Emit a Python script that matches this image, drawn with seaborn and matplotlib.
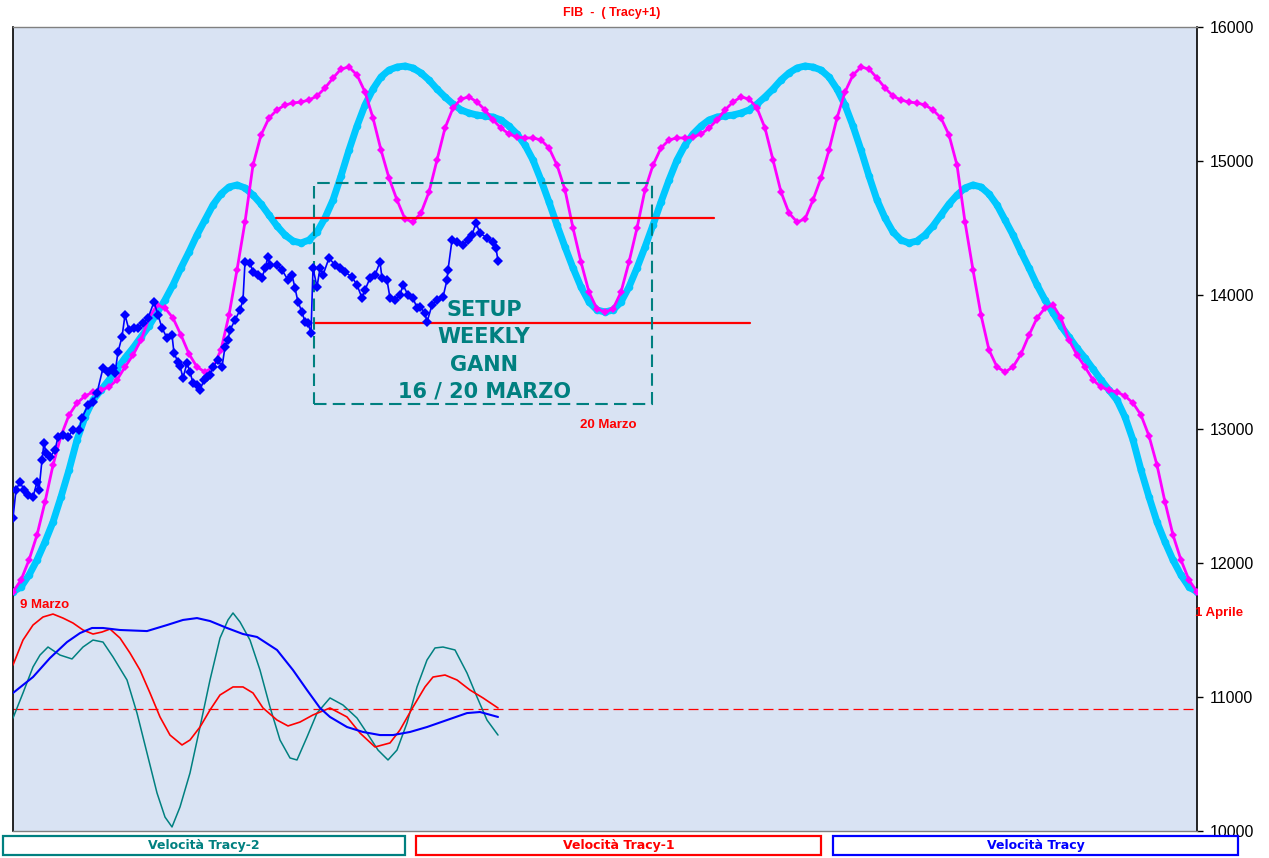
import numpy as np
import pandas as pd
import matplotlib
matplotlib.use("Agg")
import matplotlib.pyplot as plt
from matplotlib.patches import Rectangle
import seaborn as sns

# ---------------- data ----------------
curve_bar = list(range(0, 1185, 8))  # sample positions of the projection curves (149)

proiezione_tracy = [  # cyan curve
    11785, 11821, 11910, 12022, 12157, 12306, 12493, 12694, 12918, 13090,
    13216, 13291, 13366, 13448, 13530, 13604, 13687, 13769, 13866, 13963,
    14075, 14202, 14321, 14448, 14560, 14672, 14754, 14806, 14821, 14799,
    14746, 14679, 14597, 14515, 14448, 14403, 14388, 14410, 14470, 14575,
    14709, 14888, 15082, 15261, 15418, 15537, 15627, 15679, 15701, 15709,
    15694, 15657, 15604, 15537, 15478, 15425, 15381, 15358, 15343, 15336,
    15328, 15306, 15261, 15201, 15119, 15007, 14858, 14694, 14522, 14358,
    14202, 14060, 13948, 13888, 13873,
    13888, 13948, 14060, 14202, 14358, 14522, 14694, 14858, 15007, 15119,
    15201, 15261, 15306, 15328, 15336, 15343, 15358, 15381, 15425, 15478,
    15537, 15604, 15657, 15694, 15709, 15701, 15679, 15627, 15537, 15418,
    15261, 15082, 14888, 14709, 14575, 14470, 14410, 14388, 14403, 14448,
    14515, 14597, 14679, 14746, 14799, 14821, 14806, 14754, 14672, 14560,
    14448, 14321, 14202, 14075, 13963, 13866, 13769, 13687, 13604, 13530,
    13448, 13366, 13291, 13216, 13090, 12918, 12694, 12493, 12306, 12157,
    12022, 11910, 11821, 11785]

proiezione_tracy1 = [  # magenta curve
    11785, 11873, 12022, 12209, 12455, 12731, 12948, 13104, 13194, 13246,
    13276, 13291, 13313, 13366, 13463, 13552, 13664, 13828, 13925, 13903,
    13828, 13701, 13560, 13463, 13425, 13463, 13590, 13851, 14187, 14545,
    14970, 15194, 15321, 15381, 15418, 15433, 15440, 15455, 15485, 15545,
    15619, 15687, 15701, 15642, 15515, 15321, 15082, 14873, 14709, 14567,
    14545, 14612, 14769, 15007, 15246, 15395, 15463, 15478, 15440, 15381,
    15306, 15246, 15201, 15179, 15172, 15172, 15157, 15097, 14970, 14784,
    14500, 14246, 14022, 13896, 13873,
    13896, 14022, 14246, 14500, 14784, 14970, 15097, 15157, 15172, 15172,
    15179, 15201, 15246, 15306, 15381, 15440, 15478, 15463, 15395, 15246,
    15007, 14769, 14612, 14545, 14567, 14709, 14873, 15082, 15321, 15515,
    15642, 15701, 15687, 15619, 15545, 15485, 15455, 15440, 15433, 15418,
    15381, 15321, 15194, 14970, 14545, 14187, 13851, 13590, 13463, 13425,
    13463, 13560, 13701, 13828, 13903, 13925, 13828, 13664, 13552, 13463,
    13366, 13313, 13291, 13276, 13246, 13194, 13104, 12948, 12731, 12455,
    12209, 12022, 11873, 11785]

price_bar = [
    0, 3, 7, 11, 15, 20, 24, 26, 29, 31,
    33, 37, 42, 45, 50, 55, 60, 66, 69, 75,
    80, 84, 90, 95, 100, 102, 105, 109, 112, 116,
    121, 125, 130, 135, 141, 145, 149, 154, 159, 161,
    165, 167, 170, 174, 177, 180, 184, 187, 191, 194,
    197, 200, 205, 209, 212, 215, 217, 222, 227, 230,
    232, 237, 240, 245, 249, 252, 255, 257, 264, 269,
    275, 279, 282, 285, 289, 292, 295, 298, 300, 304,
    307, 310, 316, 322, 327, 332, 339, 344, 349, 352,
    357, 362, 367, 369, 374, 377, 382, 387, 390, 395,
    400, 404, 407, 412, 414, 419, 424, 430, 434, 435,
    439, 444, 450, 455, 459, 463, 467, 474, 480, 483,
    485]
price_fib = [
    12336, 12545, 12605, 12545, 12507, 12492, 12605, 12545, 12769, 12896,
    12821, 12791, 12843, 12940, 12955, 12940, 12993, 12993, 13082, 13179,
    13201, 13269, 13455, 13425, 13455, 13418, 13575, 13687, 13851, 13739,
    13754, 13754, 13791, 13828, 13948, 13851, 13754, 13679, 13701, 13567,
    13500, 13470, 13381, 13493, 13425, 13343, 13328, 13291, 13366, 13388,
    13403, 13463, 13515, 13463, 13612, 13664, 13739, 13813, 13888, 13963,
    14246, 14239, 14172, 14149, 14127, 14201, 14284, 14224, 14224, 14187,
    14112, 14149, 14052, 13948, 13873, 13798, 13791, 13716, 14201, 14060,
    14201, 14149, 14276, 14224, 14201, 14172, 14134, 14075, 13978, 14037,
    14127, 14149, 14246, 14127, 14112, 13978, 13963, 14000, 14075, 14000,
    13978, 13903, 13910, 13866, 13798, 13925, 13963, 13985, 14112, 14187,
    14410, 14396, 14373, 14410, 14448, 14537, 14463, 14425, 14396, 14351,
    14254]

vel_tracy2_bar = [0, 10, 20, 27, 35, 47, 59, 70, 80, 90,
                  100, 114, 124, 134, 144, 152, 159, 167, 177, 187,
                  197, 207, 215, 220, 227, 237, 247, 257, 267, 277,
                  284, 294, 304, 317, 330, 344, 354, 365, 375, 384,
                  394, 404, 414, 422, 430, 442, 454, 464, 474, 485]
vel_tracy2 = [10843, 11030, 11224, 11313, 11373, 11313, 11284, 11373, 11425, 11410,
              11299, 11127, 10880, 10582, 10284, 10104, 10030, 10179, 10433, 10776,
              11127, 11440, 11575, 11627, 11560, 11425, 11201, 10925, 10679, 10545,
              10530, 10701, 10880, 10993, 10940, 10843, 10731, 10604, 10530, 10604,
              10806, 11075, 11276, 11366, 11373, 11351, 11179, 11000, 10828, 10716]

vel_tracy1_bar = [0, 10, 20, 30, 40, 50, 60, 70, 80, 89,
                  97, 107, 117, 127, 137, 147, 157, 169, 177, 187,
                  197, 207, 220, 230, 240, 250, 264, 275, 287, 300,
                  317, 334, 347, 362, 377, 387, 400, 412, 420, 432,
                  444, 457, 470, 485]
vel_tracy1 = [11239, 11425, 11537, 11597, 11619, 11589, 11552, 11500, 11470, 11485,
              11507, 11440, 11328, 11201, 11030, 10851, 10716, 10642, 10679, 10776,
              10903, 11015, 11075, 11075, 11030, 10918, 10828, 10784, 10813, 10866,
              10918, 10851, 10731, 10627, 10657, 10754, 10925, 11075, 11149, 11164,
              11127, 11052, 10993, 10918]

vel_tracy_bar = [0, 20, 37, 54, 67, 79, 90, 107, 134, 154,
                 170, 184, 197, 214, 230, 244, 264, 280, 294, 307,
                 317, 334, 350, 367, 380, 397, 414, 434, 454, 467, 485]
vel_tracy = [11030, 11149, 11291, 11410, 11477, 11515, 11515, 11500, 11492, 11537,
             11575, 11589, 11567, 11515, 11470, 11448, 11351, 11201, 11052, 10918,
             10851, 10776, 10739, 10716, 10716, 10739, 10776, 10828, 10880, 10888,
             10851]

zero_level = 10910
gann_levels = [14575, 13791]
gann_level_bars = [(263, 701), (301, 737)]
setup_box_bars = (301, 639)
setup_box_levels = (13187, 14836)

y_ticks = [10000, 11000, 12000, 13000, 14000, 15000, 16000]
legend_labels = ["Velocità Tracy-2", "Velocità Tracy-1", "Velocità Tracy"]

# ---------------- style ----------------
sns.set_theme(style="white")
plt.rcParams['font.family'] = ['Liberation Sans', 'DejaVu Sans']

W, H = 1269, 858
fig = plt.figure(figsize=(W / 100, H / 100), dpi=100)
fig.patch.set_facecolor('white')
ax = fig.add_axes([13 / W, 27 / H, 1184 / W, 804 / H])
ax.set_facecolor('#d9e3f3')

CYAN = '#00c8ff'
MAGENTA = '#ff00ff'
BLUE = '#0000ff'
TEAL = '#008080'
RED = '#ff0000'

# projection curves
sns.lineplot(x=curve_bar, y=proiezione_tracy, ax=ax, color=CYAN, lw=5,
             marker='o', markersize=5.5, markeredgecolor=CYAN, markeredgewidth=0,
             zorder=2, sort=False)
sns.lineplot(x=curve_bar, y=proiezione_tracy1, ax=ax, color=MAGENTA, lw=2.0,
             marker='D', markersize=4.5, markeredgecolor=MAGENTA, markeredgewidth=0,
             zorder=3, sort=False)

# gann levels / setup box
for lev, (b0, b1) in zip(gann_levels, gann_level_bars):
    ax.plot([b0, b1], [lev, lev], color=RED, lw=1.6, zorder=3)
ax.add_patch(Rectangle((setup_box_bars[0], setup_box_levels[0]),
                       setup_box_bars[1] - setup_box_bars[0],
                       setup_box_levels[1] - setup_box_levels[0],
                       fill=False, edgecolor=TEAL, lw=1.5,
                       linestyle=(0, (6, 3)), zorder=3))

# price series
sns.lineplot(x=price_bar, y=price_fib, ax=ax, color=BLUE, lw=1.2,
             marker='D', markersize=5.5, markeredgecolor=BLUE, markeredgewidth=0,
             zorder=4, sort=False)

# velocities
ax.axhline(zero_level, color=RED, lw=0.9, dashes=(8, 4), zorder=2)
sns.lineplot(x=vel_tracy2_bar, y=vel_tracy2, ax=ax, color=TEAL, lw=1.1, zorder=4, sort=False)
sns.lineplot(x=vel_tracy1_bar, y=vel_tracy1, ax=ax, color=RED, lw=1.2, zorder=4, sort=False)
sns.lineplot(x=vel_tracy_bar, y=vel_tracy, ax=ax, color=BLUE, lw=1.5, zorder=4, sort=False)

ax.set_xlim(0, 1184)
ax.set_ylim(10000, 16000)
ax.set_xticks([])
ax.set_yticks(y_ticks)
ax.set_yticklabels([str(t) for t in y_ticks])
ax.yaxis.tick_right()
ax.tick_params(axis='y', which='both', right=True, left=False, direction='out',
               length=4, width=1, color='black', labelsize=11.5, pad=5,
               labelcolor='black')
ax.set_xlabel('')
ax.set_ylabel('')
for side in ['left', 'right']:
    ax.spines[side].set_color('black')
    ax.spines[side].set_linewidth(1.2)
for side in ['top', 'bottom']:
    ax.spines[side].set_color('#808080')
    ax.spines[side].set_linewidth(1.0)

def fx(px):
    return px / W

def fy(py):
    return 1 - py / H

# title & annotations
fig.text(fx(612), fy(13), "FIB  -  ( Tracy+1)", color=RED, fontsize=9,
         fontweight='bold', ha='center', va='center')
fig.text(fx(484), fy(351), "SETUP\nWEEKLY\nGANN\n16 / 20 MARZO", color=TEAL,
         fontsize=15, fontweight='bold', ha='center', va='center',
         linespacing=1.45, zorder=5, family=['DejaVu Sans'])
fig.text(fx(580), fy(425), "20 Marzo", color=RED, fontsize=9.5,
         fontweight='bold', ha='left', va='center')
fig.text(fx(20), fy(605), "9 Marzo", color=RED, fontsize=9.5,
         fontweight='bold', ha='left', va='center')
fig.text(fx(1195), fy(613), "1 Aprile", color=RED, fontsize=9.5,
         fontweight='bold', ha='left', va='center')

# bottom legend boxes
boxes = [(3, 405, TEAL), (416, 821, RED), (833, 1238, BLUE)]
for (x0, x1, col), lab in zip(boxes, legend_labels):
    fig.patches.append(Rectangle((fx(x0), fy(855)), (x1 - x0) / W, 19 / H,
                                 transform=fig.transFigure, fill=False,
                                 edgecolor=col, lw=1.6))
    fig.text(fx((x0 + x1) / 2), fy(845.5), lab, color=col, fontsize=9,
             fontweight='bold', ha='center', va='center', family=['DejaVu Sans'])

fig.savefig("out.png", dpi=100, facecolor='white')
